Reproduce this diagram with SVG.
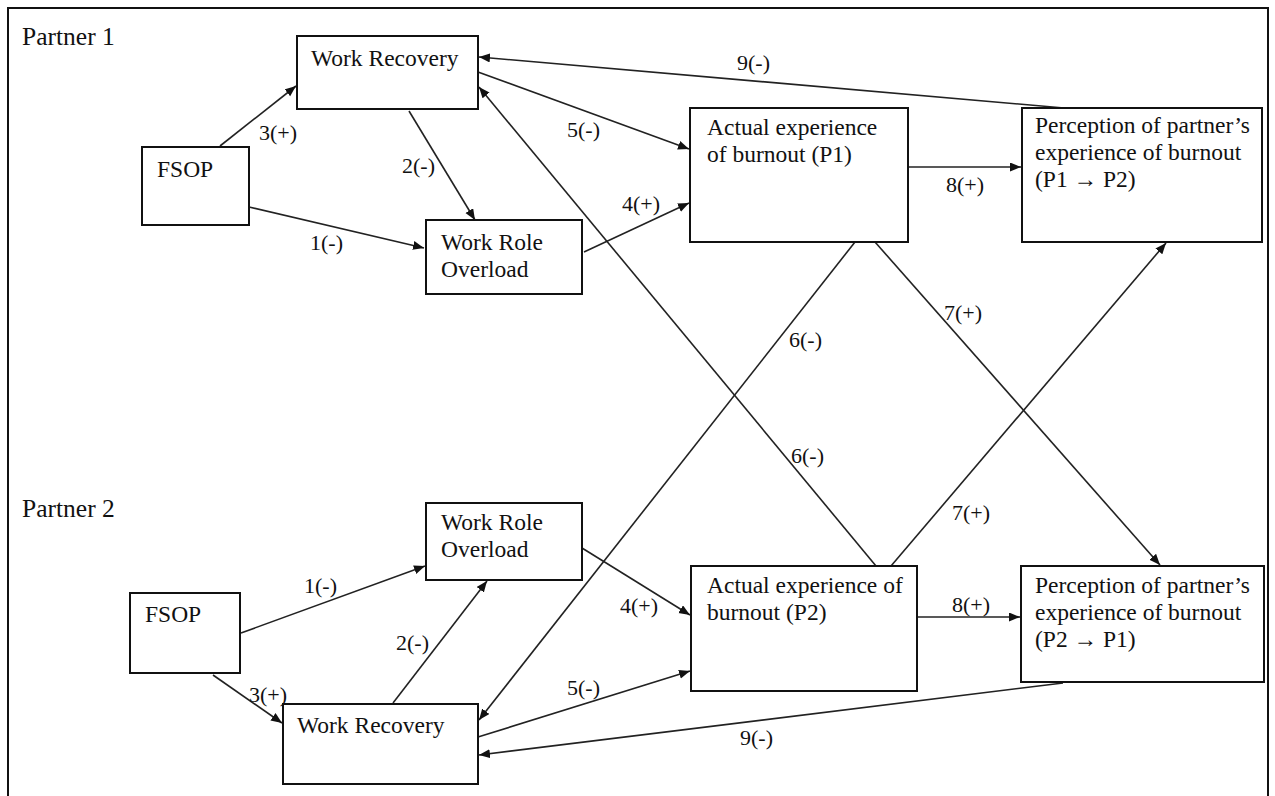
<svg xmlns="http://www.w3.org/2000/svg" width="1275" height="796" viewBox="0 0 1275 796">
<defs>
<marker id="ah" markerUnits="userSpaceOnUse" markerWidth="12" markerHeight="10" refX="11" refY="4.5" orient="auto">
<path d="M0,0 L11,4.5 L0,9 z" fill="#111"/>
</marker>
<style>
.box{fill:#fff;stroke:#111;stroke-width:2}
.t{font-family:"Liberation Serif","Times New Roman",serif;font-size:22px;fill:#111}
.b{font-family:"Liberation Serif","Times New Roman",serif;font-size:23.5px;fill:#111}
.p{font-family:"Liberation Serif","Times New Roman",serif;font-size:25.5px;fill:#111}
.c line{stroke:#222;stroke-width:1.6;marker-end:url(#ah)}
</style>
</defs>
<rect x="0" y="0" width="1275" height="796" fill="#fff"/>
<rect x="8" y="8" width="1260" height="800" fill="none" stroke="#111" stroke-width="2"/>
<text class="p" x="22" y="45">Partner 1</text>
<text class="p" x="22" y="517">Partner 2</text>

<g id="connectors" class="c">
<line x1="220" y1="146" x2="296" y2="86"/>
<line x1="409" y1="111" x2="475" y2="220"/>
<line x1="249" y1="207" x2="424" y2="248"/>
<line x1="478" y1="72" x2="689" y2="149"/>
<line x1="584" y1="252" x2="689" y2="203"/>
<line x1="1064" y1="108" x2="479" y2="57"/>
<line x1="908" y1="167" x2="1021" y2="167"/>
<line x1="876" y1="566" x2="479" y2="87"/>
<line x1="855" y1="242" x2="479" y2="720"/>
<line x1="875" y1="242" x2="1160" y2="565"/>
<line x1="891" y1="566" x2="1166" y2="243"/>
<line x1="241" y1="633" x2="425" y2="566"/>
<line x1="393" y1="703" x2="487" y2="581"/>
<line x1="213" y1="675" x2="282" y2="723"/>
<line x1="582" y1="548" x2="690" y2="615"/>
<line x1="478" y1="737" x2="690" y2="671"/>
<line x1="917" y1="617" x2="1020" y2="617"/>
<line x1="1063" y1="683" x2="479" y2="755"/>
<g class="labels">
<text class="t" x="259" y="140">3(+)</text>
<text class="t" x="402" y="173">2(-)</text>
<text class="t" x="310" y="250">1(-)</text>
<text class="t" x="567" y="137">5(-)</text>
<text class="t" x="622" y="211">4(+)</text>
<text class="t" x="737" y="70">9(-)</text>
<text class="t" x="946" y="192">8(+)</text>
<text class="t" x="789" y="347">6(-)</text>
<text class="t" x="944" y="320">7(+)</text>
<text class="t" x="791" y="463">6(-)</text>
<text class="t" x="952" y="520">7(+)</text>
<text class="t" x="304" y="593">1(-)</text>
<text class="t" x="396" y="650">2(-)</text>
<text class="t" x="249" y="702">3(+)</text>
<text class="t" x="620" y="613">4(+)</text>
<text class="t" x="567" y="695">5(-)</text>
<text class="t" x="952" y="612">8(+)</text>
<text class="t" x="740" y="745">9(-)</text>
</g>
</g>

<g id="p1-work-recovery"><rect class="box" x="297" y="36" width="181" height="73"/><text class="b" x="311" y="66">Work Recovery</text></g>
<g id="p1-fsop"><rect class="box" x="142" y="147" width="107" height="78"/><text class="b" x="157" y="177">FSOP</text></g>
<g id="p1-work-role-overload"><rect class="box" x="426" y="220" width="156" height="74"/><text class="b" x="441" y="250">Work Role</text><text class="b" x="441" y="277">Overload</text></g>
<g id="p1-actual-burnout"><rect class="box" x="690" y="108" width="218" height="134"/><text class="b" x="707" y="135">Actual experience</text><text class="b" x="707" y="162">of burnout (P1)</text></g>
<g id="p1-perception"><rect class="box" x="1022" y="108" width="240" height="134"/><text class="b" x="1035" y="133">Perception of partner’s</text><text class="b" x="1035" y="160">experience of burnout</text><text class="b" x="1035" y="187">(P1 → P2)</text></g>

<g id="p2-work-role-overload"><rect class="box" x="426" y="503" width="156" height="77"/><text class="b" x="441" y="530">Work Role</text><text class="b" x="441" y="557">Overload</text></g>
<g id="p2-fsop"><rect class="box" x="130" y="593" width="110" height="80"/><text class="b" x="145" y="622">FSOP</text></g>
<g id="p2-work-recovery"><rect class="box" x="283" y="704" width="195" height="80"/><text class="b" x="297" y="733">Work Recovery</text></g>
<g id="p2-actual-burnout"><rect class="box" x="691" y="566" width="226" height="125"/><text class="b" x="707" y="593">Actual experience of</text><text class="b" x="707" y="620">burnout (P2)</text></g>
<g id="p2-perception"><rect class="box" x="1021" y="566" width="243" height="116"/><text class="b" x="1035" y="593">Perception of partner’s</text><text class="b" x="1035" y="620">experience of burnout</text><text class="b" x="1035" y="647">(P2 → P1)</text></g>
</svg>
